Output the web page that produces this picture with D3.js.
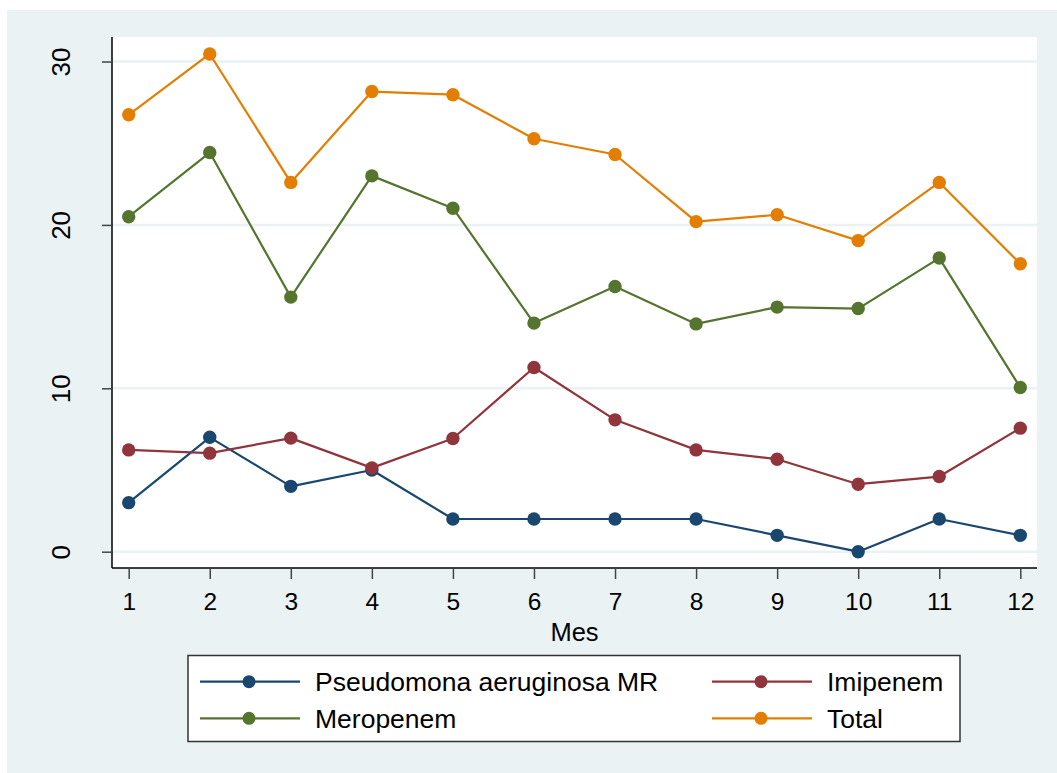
<!DOCTYPE html>
<html>
<head>
<meta charset="utf-8">
<script src="https://cdn.jsdelivr.net/npm/d3@7"></script>
<style>
html,body{margin:0;padding:0;background:#fff;}
svg{display:block;font-family:"Liberation Sans",Arial,sans-serif;}
</style>
</head>
<body>
<svg id="chart" width="1057" height="773"></svg>
<script>
const months = [1,2,3,4,5,6,7,8,9,10,11,12];
const pseudomona = [3,7,4,5,2,2,2,2,1,0,2,1];
const imipenem = [6.23,6.03,6.95,5.13,6.93,11.27,8.07,6.23,5.66,4.13,4.6,7.56];
const meropenem = [20.5,24.43,15.58,23.0,21.02,13.99,16.23,13.94,14.97,14.88,17.97,10.05];
const total = [26.74,30.46,22.6,28.16,27.97,25.27,24.31,20.2,20.62,19.04,22.6,17.62];
const yTicks = [0,10,20,30];
const seriesNames = ["Pseudomona aeruginosa MR","Imipenem","Meropenem","Total"];
const seriesColors = ["#1a476f","#90353b","#55752f","#e37e00"];
const xLabel = "Mes";

const series = [pseudomona, imipenem, meropenem, total];

const svg = d3.select("#chart");
// outer background
svg.append("rect").attr("x",7).attr("y",10).attr("width",1050).attr("height",763).attr("fill","#eaf2f3");

const plot = {left:112, right:1037, top:37, bottom:568};
svg.append("rect").attr("x",plot.left).attr("y",plot.top)
  .attr("width",plot.right-plot.left).attr("height",plot.bottom-plot.top).attr("fill","#fff");

const x = d3.scaleLinear().domain([0.794,12.206]).range([plot.left,plot.right]);
const y = d3.scaleLinear().domain([-0.998,31.5]).range([plot.bottom,plot.top]);

// gridlines
svg.append("g").selectAll("line").data(yTicks).join("line")
  .attr("x1",plot.left).attr("x2",plot.right)
  .attr("y1",d=>y(d)).attr("y2",d=>y(d))
  .attr("stroke","#eaf2f3").attr("stroke-width",2.5);

// axes
const yAxis = d3.axisLeft(y).tickValues(yTicks).tickSize(10).tickPadding(0);
const gy = svg.append("g").attr("transform",`translate(${plot.left},0)`).call(yAxis);
gy.select(".domain").attr("d",`M0,${plot.top}V${plot.bottom}`).attr("stroke","#000").attr("stroke-width",1.5);
gy.selectAll(".tick line").attr("stroke","#444").attr("stroke-width",1.5);
gy.selectAll(".tick text").attr("font-size",26).attr("fill","#000")
  .attr("font-family","'Liberation Sans',Arial,sans-serif")
  .attr("transform","rotate(-90)").attr("x",0).attr("y",-42).attr("dy",0)
  .attr("text-anchor","middle");

const xAxis = d3.axisBottom(x).tickValues(months).tickSize(11).tickPadding(0);
const gx = svg.append("g").attr("transform",`translate(0,${plot.bottom})`).call(xAxis);
gx.select(".domain").attr("d",`M${plot.left},0H${plot.right}`).attr("stroke","#000").attr("stroke-width",1.5);
gx.selectAll(".tick line").attr("stroke","#444").attr("stroke-width",1.5);
gx.selectAll(".tick text").attr("font-size",24.5).attr("fill","#000")
  .attr("font-family","'Liberation Sans',Arial,sans-serif")
  .attr("y",42).attr("dy",0);

svg.append("text").attr("x",(plot.left+plot.right)/2).attr("y",640.5)
  .attr("text-anchor","middle").attr("font-size",25.5).attr("fill","#000").text(xLabel);

// lines
const line = d3.line().x((d,i)=>x(months[i])).y(d=>y(d));
series.forEach((s,k)=>{
  svg.append("path").datum(s).attr("d",line).attr("fill","none")
    .attr("stroke",seriesColors[k]).attr("stroke-width",2.2).attr("stroke-linejoin","round");
});
series.forEach((s,k)=>{
  svg.append("g").selectAll("circle").data(s).join("circle")
    .attr("cx",(d,i)=>x(months[i])).attr("cy",d=>y(d)).attr("r",6.7)
    .attr("fill",seriesColors[k]);
});

// legend
svg.append("rect").attr("x",188).attr("y",655.5).attr("width",772).attr("height",86)
  .attr("fill","#fff").attr("stroke","#333").attr("stroke-width",1.5);
const legPos = [[200,681.7],[712,681.7],[200,718.3],[712,718.3]];
seriesNames.forEach((n,k)=>{
  const [lx,ly] = legPos[k];
  const g = svg.append("g");
  g.append("line").attr("x1",lx).attr("x2",lx+100).attr("y1",ly).attr("y2",ly)
    .attr("stroke",seriesColors[k]).attr("stroke-width",2.2);
  g.append("circle").attr("cx",lx+49).attr("cy",ly).attr("r",6.5).attr("fill",seriesColors[k]);
  g.append("text").attr("x",lx+115).attr("y",ly+9.5).attr("font-size",26.5).attr("fill","#000").text(n);
});
</script>
</body>
</html>
